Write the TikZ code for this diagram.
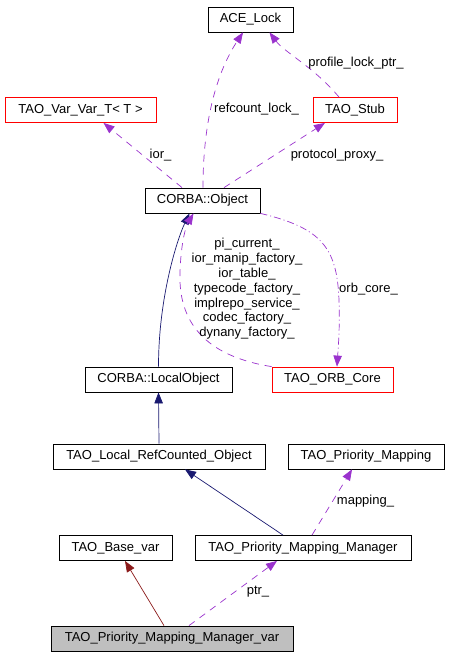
\documentclass[tikz,border=0pt]{standalone}
\usepackage{fontspec}
\setmainfont{Liberation Sans}
\usetikzlibrary{arrows.meta}
\definecolor{navy}{HTML}{191970}
\definecolor{purp}{HTML}{9A32CD}
\definecolor{dred}{HTML}{8B1A1A}
\begin{document}
\begin{tikzpicture}[x=1pt,y=-1pt,
  cls/.style={draw=black,line width=0.8pt,minimum height=25pt,inner sep=0pt,font=\fontsize{13}{15}\selectfont},
  redcls/.style={cls,draw=red},
  lbl/.style={font=\fontsize{13}{14.8}\selectfont,inner sep=0pt,align=center},
  inh/.style={-{Triangle[length=11pt,width=8.5pt,fill=navy]},draw=navy,line width=0.7pt},
  inhred/.style={-{Triangle[length=11pt,width=8.5pt,fill=dred]},draw=dred,line width=0.7pt},
  use/.style={-{Triangle[length=11pt,width=8.5pt,fill=purp]},draw=purp,line width=0.7pt,dash pattern=on 7pt off 6pt},
  usedot/.style={-{Triangle[length=11pt,width=8.5pt,fill=purp]},draw=purp,line width=0.7pt,dash pattern=on 7pt off 3pt on 1pt off 3pt}]
\useasboundingbox (0,0) rectangle (448,656);
\node[cls,minimum width=85pt] (ace) at (250.5,19.5) {ACE\_Lock};
\node[redcls,minimum width=151pt] (vv) at (80.5,110) {TAO\_Var\_Var\_T< T >};
\node[redcls,minimum width=84pt] (stub) at (355,110) {TAO\_Stub};
\node[cls,minimum width=115pt] (obj) at (202.5,200.5) {CORBA::Object};
\node[cls,minimum width=147pt] (lo) at (158.5,379.5) {CORBA::LocalObject};
\node[redcls,minimum width=121pt] (orb) at (332.5,379.5) {TAO\_ORB\_Core};
\node[cls,minimum width=212pt] (rc) at (159,456.5) {TAO\_Local\_RefCounted\_Object};
\node[cls,minimum width=156pt] (pm) at (366,456.5) {TAO\_Priority\_Mapping};
\node[cls,minimum width=113pt] (bv) at (115.5,548) {TAO\_Base\_var};
\node[cls,minimum width=216pt] (pmm) at (303,548) {TAO\_Priority\_Mapping\_Manager};
\node[cls,minimum width=242pt,fill=black!25] (pmv) at (172,638.5) {TAO\_Priority\_Mapping\_Manager\_var};
% connectors
\draw[use] ([xshift=0.5pt]obj.north) .. controls +(0,-70) and +(-25,38) .. ([xshift=-7.5pt]ace.south);
\draw[use] ([xshift=-16pt]stub.north) .. controls +(-25,-30) and +(15,20) .. ([xshift=19pt]ace.south);
\draw[use] ([xshift=-20.5pt]obj.north) -- ([xshift=23pt]vv.south);
\draw[use] ([xshift=21.5pt]obj.north) -- ([xshift=-30pt]stub.south);
\draw[inh] (lo.north) .. controls +(0,-70) and +(-12,25) .. ([xshift=-13pt]obj.south);
\draw[use] (orb.north west) .. controls (205,356) and (178,322) .. (180,272) .. controls (181,242) and (186,226) .. ([xshift=-9pt]obj.south);
\draw[usedot] (obj.south east) .. controls (322,228) and (337,248) .. (339,300) .. controls (340,330) and (338,350) .. ([xshift=4.5pt]orb.north);
\draw[inh] (rc.north) -- (lo.south);
\draw[inh] ([xshift=-20pt]pmm.north) -- ([xshift=26pt]rc.south);
\draw[use] ([xshift=9pt]pmm.north) -- ([xshift=-14pt]pm.south);
\draw[inhred] ([xshift=-8pt]pmv.north) -- ([xshift=9.5pt]bv.south);
\draw[use] ([xshift=17pt]pmv.north) -- ([xshift=-26pt]pmm.south);
% labels
\node[lbl] (l1) at (256.5,109) {refcount\_lock\_};
\node[lbl] (l2) at (356,63) {profile\_lock\_ptr\_};
\node[lbl] (l3) at (160.5,155) {ior\_};
\node[lbl] (l4) at (337,155) {protocol\_proxy\_};
\node[lbl] (l5) at (247,289) {pi\_current\_\\ior\_manip\_factory\_\\ior\_table\_\\typecode\_factory\_\\implrepo\_service\_\\codec\_factory\_\\dynany\_factory\_};
\node[lbl] (l6) at (368.5,289) {orb\_core\_};
\node[lbl] (l7) at (365.5,501) {mapping\_};
\node[lbl] (l8) at (258,592) {ptr\_};
\end{tikzpicture}
\end{document}
